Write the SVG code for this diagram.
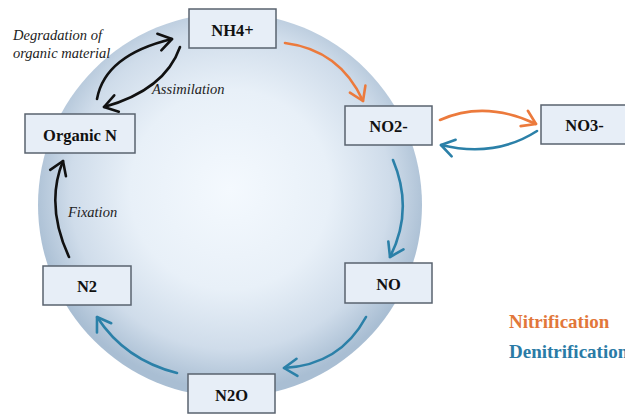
<svg xmlns="http://www.w3.org/2000/svg" width="625" height="414" viewBox="0 0 625 414">
  <defs>
    <radialGradient id="sphere" cx="0.5" cy="0.46" r="0.52">
      <stop offset="0" stop-color="#f4f9fe"/>
      <stop offset="0.5" stop-color="#e8f0f8"/>
      <stop offset="0.8" stop-color="#cfdcea"/>
      <stop offset="1" stop-color="#a9bed3"/>
    </radialGradient>
    <marker id="head-black" markerUnits="userSpaceOnUse" orient="auto" markerWidth="30" markerHeight="30" refX="0" refY="0" viewBox="-16 -15 30 30" overflow="visible">
      <path d="M-13,-8.5 L0,0 L-13,8.5" fill="none" stroke="#111" stroke-width="2.6" stroke-linecap="round" stroke-linejoin="round"/>
    </marker>
    <marker id="head-orange" markerUnits="userSpaceOnUse" orient="auto" markerWidth="30" markerHeight="30" refX="0" refY="0" viewBox="-16 -15 30 30" overflow="visible">
      <path d="M-13,-8.5 L0,0 L-13,8.5" fill="none" stroke="#ec7a3c" stroke-width="2.6" stroke-linecap="round" stroke-linejoin="round"/>
    </marker>
    <marker id="head-blue" markerUnits="userSpaceOnUse" orient="auto" markerWidth="30" markerHeight="30" refX="0" refY="0" viewBox="-16 -15 30 30" overflow="visible">
      <path d="M-13,-8.5 L0,0 L-13,8.5" fill="none" stroke="#2b80a8" stroke-width="2.6" stroke-linecap="round" stroke-linejoin="round"/>
    </marker>
  </defs>
  <style>
    .box { fill: #e7eef7; stroke: #59636f; stroke-width: 1.5; }
    .label { font-family: "Liberation Serif", "Times New Roman", serif; font-weight: bold; font-size: 16.5px; fill: #111; text-anchor: middle; }
    .note { font-family: "Liberation Serif", "Times New Roman", serif; font-style: italic; font-size: 14.5px; fill: #222; }
    .legend { font-family: "Liberation Serif", "Times New Roman", serif; font-weight: bold; font-size: 19px; }
    .flow { fill: none; stroke-width: 2.6; stroke-linecap: round; }
    .black { stroke: #111; }
    .orange { stroke: #ec7a3c; }
    .blue { stroke: #2b80a8; }
  </style>

  <rect width="625" height="414" fill="#ffffff"/>

  <!-- background sphere -->
  <circle cx="230" cy="205" r="192" fill="url(#sphere)"/>

  <!-- process labels -->
  <text class="note" x="13" y="40">Degradation of</text>
  <text class="note" x="13" y="58">organic material</text>
  <text class="note" x="152" y="94">Assimilation</text>
  <text class="note" x="68" y="217">Fixation</text>

  <!-- connectors -->
  <g id="connectors">
    <path class="flow black" d="M97,99 Q105,55 172,39" marker-end="url(#head-black)"/>
    <path class="flow black" d="M180,47 Q165,90 104,107" marker-end="url(#head-black)"/>
    <path class="flow black" d="M69,257 Q45,205 63,161" marker-end="url(#head-black)"/>
    <path class="flow orange" d="M285,43 Q340,50 363,101" marker-end="url(#head-orange)"/>
    <path class="flow orange" d="M440,120 Q485,100 536,124" marker-end="url(#head-orange)"/>
    <path class="flow blue" d="M537,131 Q495,158 441,145" marker-end="url(#head-blue)"/>
    <path class="flow blue" d="M393,160 Q414,210 390,257" marker-end="url(#head-blue)"/>
    <path class="flow blue" d="M366,317 Q340,365 284,368" marker-end="url(#head-blue)"/>
    <path class="flow blue" d="M177,373 Q125,360 97,317" marker-end="url(#head-blue)"/>
  </g>

  <!-- nodes -->
  <g id="nh4">
    <rect class="box" x="189" y="9" width="87" height="39"/>
    <text class="label" x="232.5" y="36">NH4+</text>
  </g>
  <g id="organic-n">
    <rect class="box" x="25" y="114" width="110" height="39"/>
    <text class="label" x="80" y="141">Organic N</text>
  </g>
  <g id="no2">
    <rect class="box" x="345" y="106" width="87" height="39"/>
    <text class="label" x="388.5" y="132">NO2-</text>
  </g>
  <g id="no3">
    <rect class="box" x="541" y="105" width="87" height="39"/>
    <text class="label" x="584.5" y="131">NO3-</text>
  </g>
  <g id="no">
    <rect class="box" x="345" y="263" width="87" height="40"/>
    <text class="label" x="388.5" y="290">NO</text>
  </g>
  <g id="n2">
    <rect class="box" x="43" y="266" width="88" height="39"/>
    <text class="label" x="87" y="292">N2</text>
  </g>
  <g id="n2o">
    <rect class="box" x="188" y="374" width="87" height="39"/>
    <text class="label" x="231.5" y="401">N2O</text>
  </g>

  <!-- legend -->
  <g id="legend">
    <text class="legend" x="509" y="328" fill="#e2773a">Nitrification</text>
    <text class="legend" x="509" y="358" fill="#2a7ba6">Denitrification</text>
  </g>
</svg>
